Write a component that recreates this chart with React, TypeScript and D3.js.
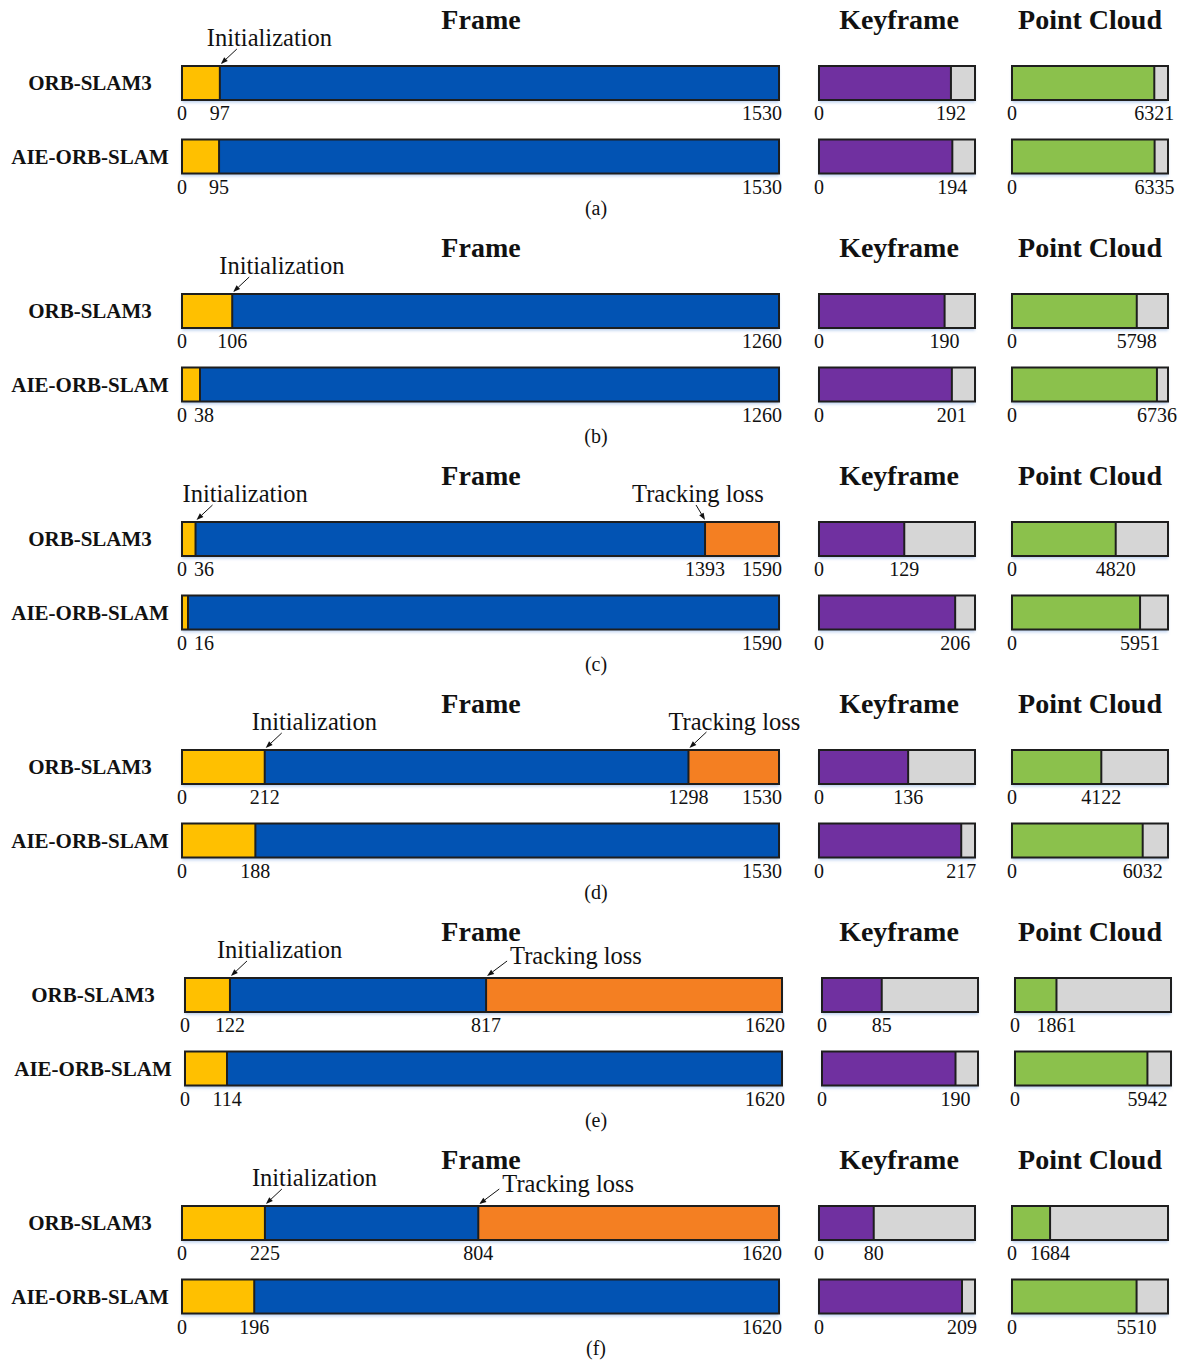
import React from "react";
import * as d3 from "d3";

// ---- data ----
const panelTags = ["(a)", "(b)", "(c)", "(d)", "(e)", "(f)"];
const methods = ["ORB-SLAM3", "AIE-ORB-SLAM"];
const sectionTitles = ["Frame", "Keyframe", "Point Cloud"];

const frameTotals = [1530, 1260, 1590, 1530, 1620, 1620];
const orbInitFrames = [97, 106, 36, 212, 122, 225];
const aieInitFrames = [95, 38, 16, 188, 114, 196];
const orbLossFrames: (number | null)[] = [null, null, 1393, 1298, 817, 804];
const aieLossFrames: (number | null)[] = [null, null, null, null, null, null];

const orbKeyframes = [192, 190, 129, 136, 85, 80];
const aieKeyframes = [194, 201, 206, 217, 190, 209];
const keyframeAxisMax = [227, 236, 236, 238, 222, 228];

const orbPoints = [6321, 5798, 4820, 4122, 1861, 1684];
const aiePoints = [6335, 6736, 5951, 6032, 5942, 5510];
const pointAxisMax = [6930, 7250, 7250, 7200, 7000, 6900];

// ---- layout & style ----
const W = 1192;
const H = 1360;
const PANEL_H = 228;
const FRAME_RANGE: [number, number] = [182, 779];
const KEY_RANGE: [number, number] = [819, 975];
const PC_RANGE: [number, number] = [1012, 1168];
const ROW_TOP = [65, 138.5];
const BAR_H = 36;
const panelNudge = [0, 0, 0, 0, 3, 0];

// annotation placement relative to the marked boundary and bar top
type Note = { dx: number; base: number; tx: number; ty: number };
const initNote: Note = { dx: -13, base: -19, tx: 17, ty: -16 };
const lossNotes: (Note | null)[] = [
  null,
  null,
  { dx: -73, base: -19, tx: -9, ty: -16 },
  { dx: -20, base: -19, tx: 18, ty: -17 },
  { dx: 24, base: -13, tx: 21, ty: -16 },
  { dx: 24, base: -13, tx: 21, ty: -16 },
];

const C = {
  init: "#FFC000",
  track: "#0253B3",
  loss: "#F47F22",
  key: "#7030A0",
  pc: "#8BC14C",
  rest: "#D6D6D6",
  stroke: "#1E1E1E",
  text: "#111111",
};

const SERIF = "'Liberation Serif', 'Times New Roman', serif";
const NUM_SIZE = 20;
const digitW = (v: number) => String(v).length * NUM_SIZE * 0.5;

type Seg = { from: number; to: number; color: string };

function SegBar({
  scale,
  y,
  segs,
}: {
  scale: d3.ScaleLinear<number, number>;
  y: number;
  segs: Seg[];
}) {
  const [r0, r1] = scale.range();
  const top = y + 1;
  const h = BAR_H - 2;
  return (
    <g>
      <rect
        x={r0}
        y={top}
        width={r1 - r0}
        height={h}
        fill="#ffffff"
        filter="url(#barGlow)"
      />
      {segs.map((s, i) => (
        <rect
          key={i}
          x={scale(s.from)}
          y={top}
          width={Math.max(0, scale(s.to) - scale(s.from))}
          height={h}
          fill={s.color}
        />
      ))}
      {segs.slice(1).map((s, i) => (
        <line
          key={"d" + i}
          x1={scale(s.from)}
          x2={scale(s.from)}
          y1={top}
          y2={top + h}
          stroke={C.stroke}
          strokeWidth={2}
        />
      ))}
      <rect
        x={r0}
        y={top}
        width={r1 - r0}
        height={h}
        fill="none"
        stroke={C.stroke}
        strokeWidth={2}
      />
    </g>
  );
}

function Arrow({ x1, y1, x2, y2 }: { x1: number; y1: number; x2: number; y2: number }) {
  const a = Math.atan2(y2 - y1, x2 - x1);
  const len = 7;
  const half = 2.6;
  const bx = x2 - len * Math.cos(a);
  const by = y2 - len * Math.sin(a);
  const px = -Math.sin(a) * half;
  const py = Math.cos(a) * half;
  const head = `M${x2},${y2}L${bx + px},${by + py}L${bx - px},${by - py}Z`;
  return (
    <g>
      <line x1={x1} y1={y1} x2={bx} y2={by} stroke={C.text} strokeWidth={1} />
      <path d={head} fill={C.text} />
    </g>
  );
}

function Num({ x, y, v, anchor = "middle" }: { x: number; y: number; v: number; anchor?: string }) {
  return (
    <text
      x={x}
      y={y}
      fontFamily={SERIF}
      fontSize={NUM_SIZE}
      fill={C.text}
      textAnchor={anchor as any}
    >
      {v}
    </text>
  );
}

function Panel({ i }: { i: number }) {
  const oy = i * PANEL_H;
  const nx = panelNudge[i];
  const frameX = d3
    .scaleLinear()
    .domain([0, frameTotals[i]])
    .range([FRAME_RANGE[0] + nx, FRAME_RANGE[1] + nx]);
  const keyX = d3
    .scaleLinear()
    .domain([0, keyframeAxisMax[i]])
    .range([KEY_RANGE[0] + nx, KEY_RANGE[1] + nx]);
  const pcX = d3
    .scaleLinear()
    .domain([0, pointAxisMax[i]])
    .range([PC_RANGE[0] + nx, PC_RANGE[1] + nx]);

  const rows = [
    {
      init: orbInitFrames[i],
      loss: orbLossFrames[i],
      kf: orbKeyframes[i],
      pts: orbPoints[i],
    },
    {
      init: aieInitFrames[i],
      loss: aieLossFrames[i],
      kf: aieKeyframes[i],
      pts: aiePoints[i],
    },
  ];
  const total = frameTotals[i];
  const titleX = [481, 899, 1090];

  return (
    <g transform={`translate(0,${oy})`}>
      {sectionTitles.map((t, k) => (
        <text
          key={t}
          x={titleX[k]}
          y={29}
          fontFamily={SERIF}
          fontWeight="bold"
          fontSize={28}
          fill={C.text}
          textAnchor="middle"
        >
          {t}
        </text>
      ))}

      {rows.map((r, ri) => {
        const top = ROW_TOP[ri];
        const labelY = top + BAR_H + 19;
        const end = r.loss ?? total;
        const segs: Seg[] = [
          { from: 0, to: r.init, color: C.init },
          { from: r.init, to: end, color: C.track },
        ];
        if (r.loss != null) segs.push({ from: r.loss, to: total, color: C.loss });

        const x0 = frameX.range()[0];
        const x1 = frameX.range()[1];
        const totalRight = x1 + 3;
        const initCx = Math.max(frameX(r.init), x0 + 22);
        const lossCx =
          r.loss != null
            ? Math.min(frameX(r.loss), totalRight - digitW(total) - 8 - digitW(r.loss) / 2)
            : 0;

        return (
          <g key={ri}>
            <text
              x={90 + nx}
              y={top + BAR_H / 2 + 7}
              fontFamily={SERIF}
              fontWeight="bold"
              fontSize={21}
              fill={C.text}
              textAnchor="middle"
            >
              {methods[ri]}
            </text>

            <SegBar scale={frameX} y={top} segs={segs} />
            <Num x={x0} y={labelY} v={0} />
            <Num x={initCx} y={labelY} v={r.init} />
            {r.loss != null && <Num x={lossCx} y={labelY} v={r.loss} />}
            <Num x={totalRight} y={labelY} v={total} anchor="end" />

            <SegBar
              scale={keyX}
              y={top}
              segs={[
                { from: 0, to: r.kf, color: C.key },
                { from: r.kf, to: keyframeAxisMax[i], color: C.rest },
              ]}
            />
            <Num x={keyX.range()[0]} y={labelY} v={0} />
            <Num x={keyX(r.kf)} y={labelY} v={r.kf} />

            <SegBar
              scale={pcX}
              y={top}
              segs={[
                { from: 0, to: r.pts, color: C.pc },
                { from: r.pts, to: pointAxisMax[i], color: C.rest },
              ]}
            />
            <Num x={pcX.range()[0]} y={labelY} v={0} />
            <Num x={pcX(r.pts)} y={labelY} v={r.pts} />

            {ri === 0 && (
              <g>
                {(() => {
                  const bx = frameX(r.init);
                  return (
                    <g>
                      <text
                        x={bx + initNote.dx}
                        y={top + initNote.base}
                        fontFamily={SERIF}
                        fontSize={24.5}
                        fill={C.text}
                      >
                        Initialization
                      </text>
                      <Arrow
                        x1={bx + initNote.tx}
                        y1={top + initNote.ty}
                        x2={bx + 1}
                        y2={top - 1}
                      />
                    </g>
                  );
                })()}
                {r.loss != null &&
                  lossNotes[i] &&
                  (() => {
                    const bx = frameX(r.loss as number);
                    const n = lossNotes[i] as Note;
                    return (
                      <g>
                        <text
                          x={bx + n.dx}
                          y={top + n.base}
                          fontFamily={SERIF}
                          fontSize={24.5}
                          fill={C.text}
                        >
                          Tracking loss
                        </text>
                        <Arrow x1={bx + n.tx} y1={top + n.ty} x2={bx + (n.tx < 0 ? 0 : 1)} y2={top - 1} />
                      </g>
                    );
                  })()}
              </g>
            )}
          </g>
        );
      })}

      <text
        x={596}
        y={215}
        fontFamily={SERIF}
        fontSize={20}
        fill={C.text}
        textAnchor="middle"
      >
        {panelTags[i]}
      </text>
    </g>
  );
}

export default function App() {
  return (
    <svg
      width={W}
      height={H}
      viewBox={`0 0 ${W} ${H}`}
      style={{ position: "absolute", left: 0, top: 0, background: "#ffffff" }}
    >
      <defs>
        <filter id="barGlow" x="-5%" y="-20%" width="110%" height="160%">
          <feDropShadow dx="0" dy="2.5" stdDeviation="1.6" floodColor="#7ea6e0" floodOpacity="0.55" />
        </filter>
      </defs>
      <rect x={0} y={0} width={W} height={H} fill="#ffffff" />
      {panelTags.map((_, i) => (
        <Panel key={i} i={i} />
      ))}
    </svg>
  );
}
